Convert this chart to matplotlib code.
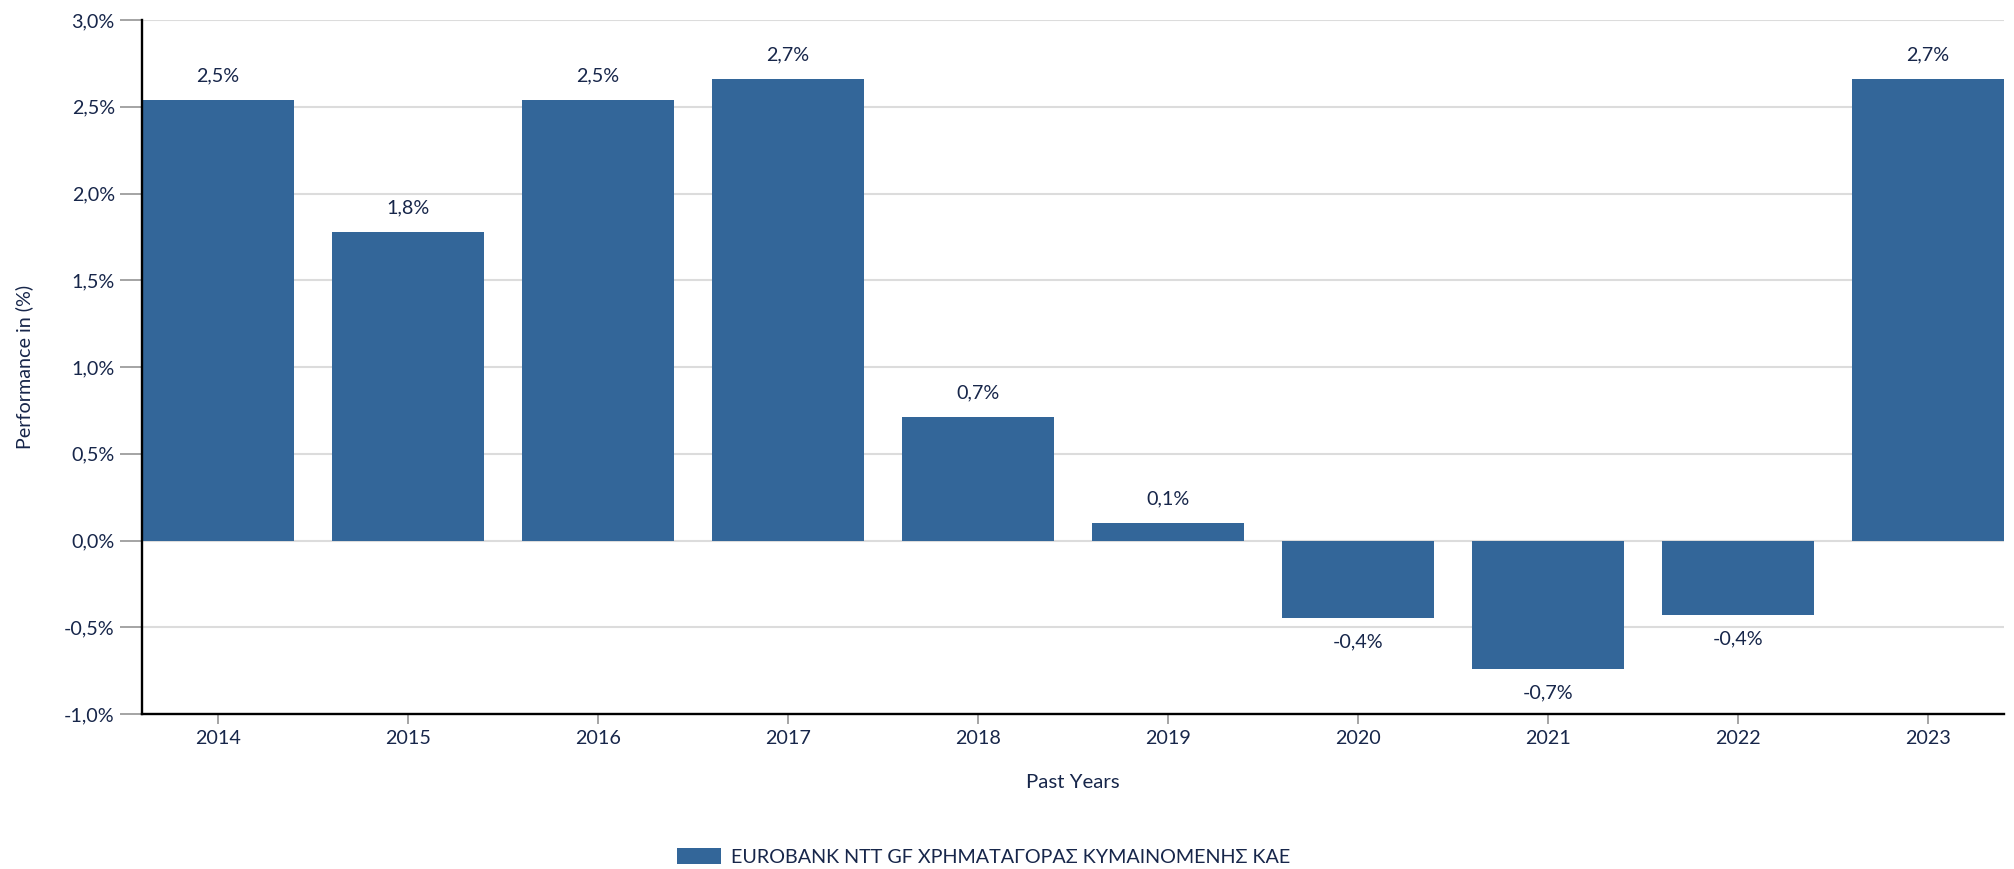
import matplotlib
matplotlib.use("Agg")
import matplotlib.pyplot as plt
from matplotlib.patches import Patch

years = ["2014", "2015", "2016", "2017", "2018", "2019", "2020", "2021", "2022", "2023"]
performance = [2.54, 1.78, 2.54, 2.66, 0.71, 0.10, -0.445, -0.742, -0.43, 2.66]
y_ticks = [-1.0, -0.5, 0.0, 0.5, 1.0, 1.5, 2.0, 2.5, 3.0]
series_name = "EUROBANK NTT GF ΧΡΗΜΑΤΑΓΟΡΑΣ ΚΥΜΑΙΝΟΜΕΝΗΣ ΚΑΕ"

TEXT = "#17264a"
BAR = "#336699"
FONT = ["Lato", "Open Sans", "DejaVu Sans"]
FS = 14.2

plt.rcParams['font.family'] = FONT

W, H = 2015, 869
fig = plt.figure(figsize=(W / 100, H / 100), dpi=100)
ax = fig.add_axes([142 / W, 1 - 714 / H, (2004 - 142) / W, (714 - 20) / H])

x = list(range(len(years)))
ax.bar(x, performance, width=0.8, color=BAR, zorder=3)

ax.set_xlim(-0.4, len(years) - 0.6)
ax.set_ylim(-1.0, 3.0)
ax.set_yticks(y_ticks)
ax.set_yticklabels([f"{v:.1f}%".replace(".", ",") for v in y_ticks])
ax.set_xticks(x)
ax.set_xticklabels(years)

ax.grid(axis="y", color="#dcdcdc", linewidth=1.5, zorder=0)
ax.set_axisbelow(True)

for s in ["top", "right"]:
    ax.spines[s].set_visible(False)
for s in ["left", "bottom"]:
    ax.spines[s].set_color("black")
    ax.spines[s].set_linewidth(1.7)
    ax.spines[s].set_zorder(4)

ax.tick_params(axis="y", length=16, width=1.1, color="#8c8c8c", pad=3.6,
               labelsize=FS, labelcolor=TEXT)
ax.tick_params(axis="x", length=7.5, width=1.1, color="#8c8c8c", pad=4,
               labelsize=FS, labelcolor=TEXT)

for xi, v in zip(x, performance):
    lbl = f"{v:.1f}%".replace(".", ",")
    off = 17.3 if v >= 0 else -17.3
    ax.annotate(lbl, (xi, v), xytext=(0, off), textcoords="offset points",
                ha="center", va="center", fontsize=FS, color=TEXT)

fig.text(24 / W, 1 - 367 / H, "Performance in (%)", rotation=90,
         ha="center", va="center", fontsize=FS, color=TEXT)
fig.text(1073 / W, 1 - 782 / H, "Past Years", ha="center", va="center",
         fontsize=FS + 0.5, color=TEXT)

leg = fig.legend(handles=[Patch(facecolor=BAR, edgecolor="none", label=series_name)],
                 loc="center", bbox_to_anchor=(984 / W, 1 - 857 / H),
                 frameon=False, fontsize=FS, handlelength=2.2, handleheight=0.85,
                 handletextpad=0.55, borderpad=0)
for t in leg.get_texts():
    t.set_color(TEXT)

fig.savefig("out.png", dpi=100)
